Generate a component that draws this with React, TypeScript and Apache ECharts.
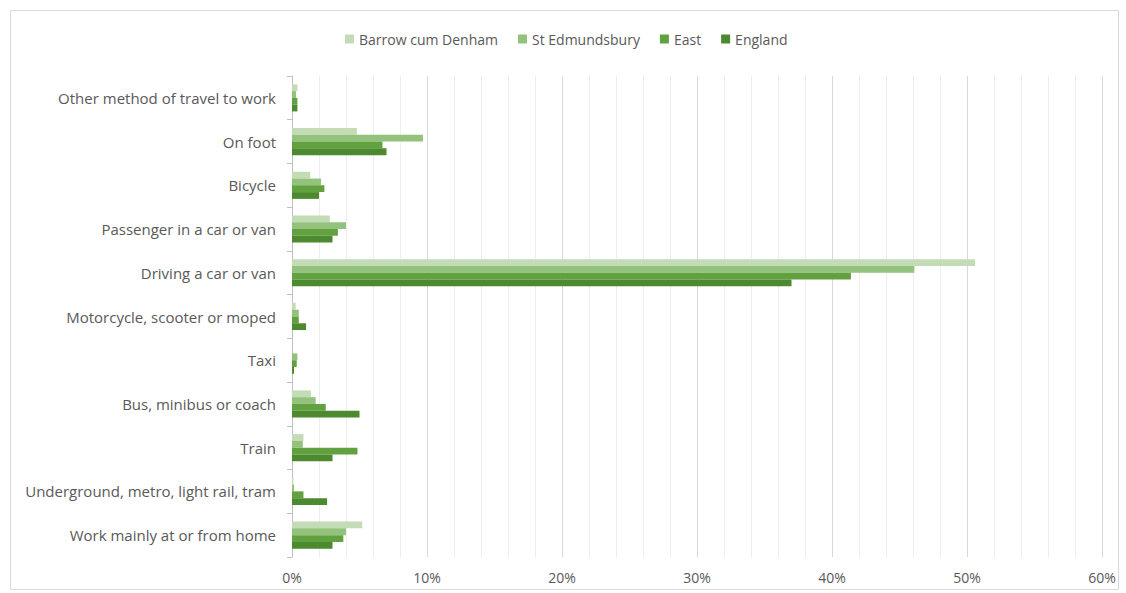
import React, { useEffect, useRef } from "react";
import * as echarts from "echarts";

// categories listed bottom-to-top (category axis starts at the bottom)
const categories = [
  "Work mainly at or from home",
  "Underground, metro, light rail, tram",
  "Train",
  "Bus, minibus or coach",
  "Taxi",
  "Motorcycle, scooter or moped",
  "Driving a car or van",
  "Passenger in a car or van",
  "Bicycle",
  "On foot",
  "Other method of travel to work",
];

const barrowCumDenham = [5.2, 0.1, 0.85, 1.4, 0, 0.27, 50.6, 2.8, 1.35, 4.8, 0.4];
const stEdmundsbury = [4.0, 0.15, 0.8, 1.75, 0.4, 0.5, 46.1, 4.0, 2.15, 9.7, 0.3];
const east = [3.8, 0.85, 4.85, 2.5, 0.35, 0.5, 41.4, 3.4, 2.4, 6.7, 0.4];
const england = [3.0, 2.6, 3.0, 5.0, 0.15, 1.04, 37.0, 3.0, 2.0, 7.0, 0.4];

const seriesNames = ["Barrow cum Denham", "St Edmundsbury", "East", "England"];
const seriesColors = ["#c3dcb5", "#92c27c", "#62a140", "#4d8a2f"];
const seriesData = [barrowCumDenham, stEdmundsbury, east, england];

const xTicks = { min: 0, max: 60, interval: 10 };

export default function App() {
  const ref = useRef<HTMLDivElement>(null);
  useEffect(() => {
    if (!ref.current) return;
    const chart = echarts.init(ref.current, undefined, { renderer: "svg" });
    const font = "'Open Sans', 'Liberation Sans', sans-serif";
    chart.setOption({
      animation: false,
      backgroundColor: "#ffffff",
      textStyle: { fontFamily: font },
      graphic: [
        {
          type: "rect",
          shape: { x: 10.5, y: 10.5, width: 1108, height: 579 },
          style: { fill: "none", stroke: "#d9d9d9", lineWidth: 1 },
          silent: true,
        },
      ],
      legend: {
        top: 27,
        left: 340,
        itemWidth: 9,
        itemHeight: 9,
        itemGap: 20,
        icon: "rect",
        textStyle: { color: "#595959", fontSize: 14, fontFamily: font },
        data: seriesNames,
      },
      grid: { left: 292, right: 24, top: 76, bottom: 36 },
      xAxis: {
        type: "value",
        min: xTicks.min,
        max: xTicks.max,
        interval: xTicks.interval,
        axisLine: { show: false },
        axisTick: { show: false },
        axisLabel: {
          formatter: "{value}%",
          color: "#595959",
          fontSize: 14,
          margin: 13,
          fontFamily: font,
        },
        splitLine: { show: true, lineStyle: { color: "#d9d9d9", width: 1 } },
        minorTick: { show: false, splitNumber: 5 },
        minorSplitLine: { show: true, lineStyle: { color: "#eeeeee", width: 1 } },
      },
      yAxis: {
        type: "category",
        data: categories,
        axisLine: { show: true, lineStyle: { color: "#bfbfbf" } },
        axisTick: { show: true, length: 5, lineStyle: { color: "#bfbfbf" } },
        axisLabel: { color: "#595959", fontSize: 15, margin: 16, fontFamily: font },
      },
      series: seriesNames.map((name, i) => ({
        name,
        type: "bar",
        data: seriesData[i],
        barGap: "0%",
        barCategoryGap: "38%",
        itemStyle: { color: seriesColors[i] },
      })),
    });
    return () => chart.dispose();
  }, []);
  return (
    <div
      ref={ref}
      style={{ position: "absolute", left: 0, top: 0, width: 1126, height: 593 }}
    />
  );
}
